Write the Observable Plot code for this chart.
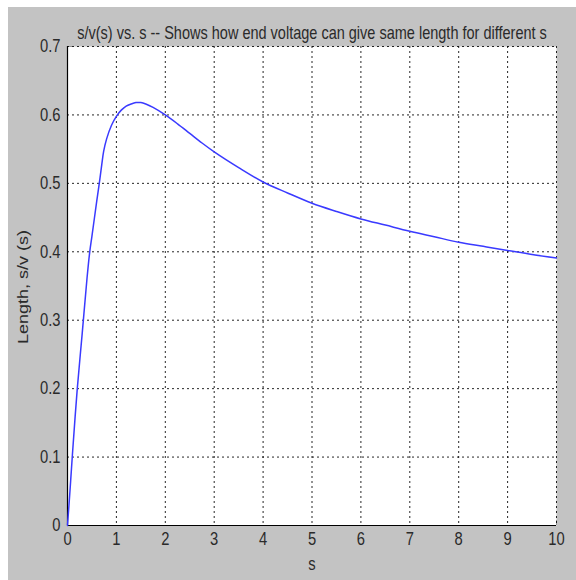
<!DOCTYPE html>
<html>
<head>
<meta charset="utf-8">
<script src="https://cdn.jsdelivr.net/npm/d3@7"></script>
<script src="https://cdn.jsdelivr.net/npm/@observablehq/plot@0.6"></script>
<style>
  html, body { margin: 0; padding: 0; background: #fff; }
  #wrap { position: relative; width: 576px; height: 580px; background: #fff; overflow: hidden; }
  #bg { position: absolute; left: 8px; top: 7px; width: 568px; height: 573px; background: #c3c3c3; }
  #chart { position: absolute; left: 0; top: 0; }
  #chart svg { background: transparent !important; }
</style>
</head>
<body>
<div id="wrap"><div id="bg"></div><div id="chart"></div></div>
<script>
const title = "s/v(s) vs. s -- Shows how end voltage can give same length for different s";
const xLabel = "s";
const yLabel = "Length, s/v (s)";
const xTicks = [0, 1, 2, 3, 4, 5, 6, 7, 8, 9, 10];
const yTicks = [0, 0.1, 0.2, 0.3, 0.4, 0.5, 0.6, 0.7];
const sValues = [0, 0.05, 0.1, 0.2, 0.3, 0.4, 0.455, 0.5, 0.6, 0.65, 0.7, 0.74, 0.8, 0.9, 1.0, 1.1, 1.2, 1.3, 1.4, 1.5, 1.6, 1.75, 2.0, 2.25, 2.5, 2.75, 3.0, 3.5, 4.0, 4.5, 5.0, 5.5, 6.0, 6.5, 7.0, 7.5, 8.0, 8.5, 9.0, 9.5, 10.0];
const lengthValues = [0, 0.05, 0.103, 0.2, 0.28, 0.362, 0.4, 0.423, 0.475, 0.5, 0.527, 0.547, 0.565, 0.585, 0.598, 0.607, 0.613, 0.616, 0.618, 0.618, 0.616, 0.611, 0.600, 0.587, 0.573, 0.559, 0.546, 0.523, 0.502, 0.486, 0.471, 0.459, 0.448, 0.439, 0.430, 0.422, 0.414, 0.408, 0.402, 0.396, 0.391];

const data = sValues.map((s, i) => ({s, L: lengthValues[i]}));
const font = "'Liberation Sans', Arial, sans-serif";

const chart = Plot.plot({
  width: 576,
  height: 580,
  marginLeft: 67,
  marginRight: 20,
  marginTop: 46,
  marginBottom: 55,
  style: {fontFamily: font, fontSize: "18px", color: "#2a2a2a", background: "transparent"},
  x: {domain: [0, 10], ticks: xTicks, label: xLabel, labelAnchor: "center", labelArrow: "none", labelOffset: 44, tickSize: -5, tickPadding: 12, tickFormat: d => String(d)},
  y: {domain: [0, 0.7], ticks: yTicks, label: null, tickSize: -5, tickPadding: 12, tickFormat: d => String(d)},
  marks: [
    Plot.frame({fill: "white", stroke: null}),
    Plot.gridX(xTicks, {stroke: "#000", strokeOpacity: 0.85, strokeDasharray: "2,3", strokeWidth: 1}),
    Plot.gridY(yTicks, {stroke: "#000", strokeOpacity: 0.85, strokeDasharray: "2,3", strokeWidth: 1}),
    Plot.ruleX([0], {stroke: "#000", strokeWidth: 1.2}),
    Plot.ruleY([0], {stroke: "#000", strokeWidth: 1.2}),
    Plot.line(data, {x: "s", y: "L", stroke: "#3a3aff", strokeWidth: 1.5, curve: "catmull-rom"}),
    Plot.text([title], {frameAnchor: "top", dy: -20, fontSize: 17.7, fill: "#2a2a2a"}),
    Plot.text([yLabel], {frameAnchor: "left", textAnchor: "middle", rotate: -90, dx: -44, dy: 1, fontSize: 15, fill: "#2a2a2a"})
  ]
});
document.getElementById("chart").appendChild(chart);
// the reference looks vertically stretched: horizontal text is narrowed, rotated text is lengthened
chart.querySelectorAll("text").forEach(t => {
  const k = t.textContent === yLabel ? 1.2 : 0.82;
  const b = t.getBBox();
  const anchor = getComputedStyle(t).textAnchor;
  const ax = anchor === "end" ? b.x + b.width : anchor === "middle" ? b.x + b.width / 2 : b.x;
  const tr = t.getAttribute("transform") || "";
  t.setAttribute("transform", `${tr} translate(${ax},0) scale(${k},1) translate(${-ax},0)`);
});
</script>
</body>
</html>
